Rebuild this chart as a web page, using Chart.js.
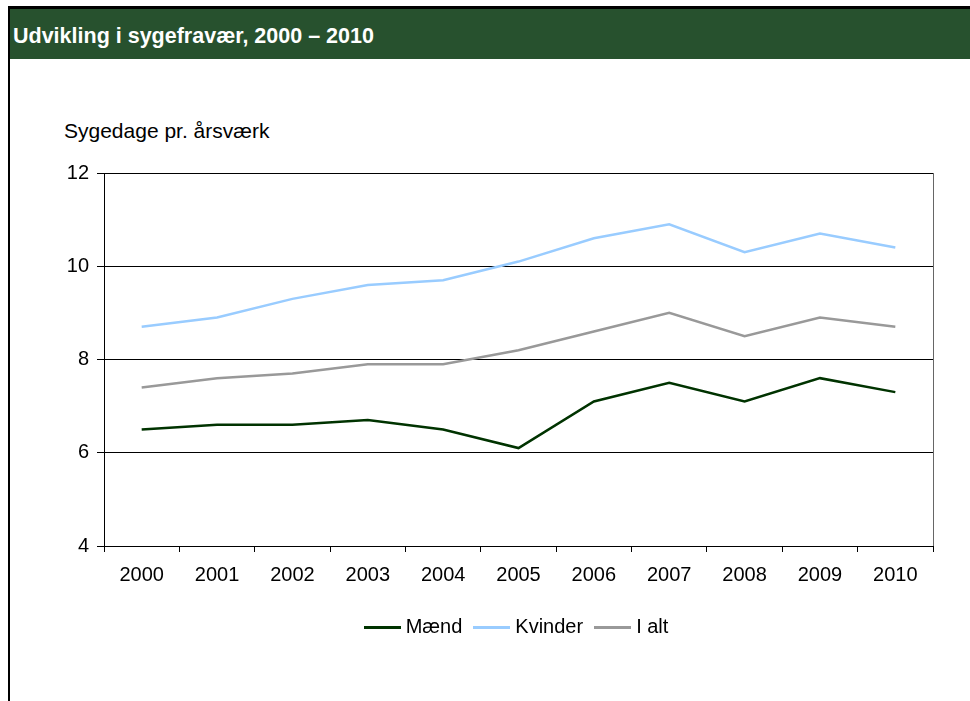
<!DOCTYPE html>
<html>
<head>
<meta charset="utf-8">
<script src="https://cdn.jsdelivr.net/npm/chart.js@4"></script>
<style>
  html, body { margin: 0; padding: 0; background: #fff; }
  body { width: 970px; height: 701px; position: relative; overflow: hidden; font-family: Arial, 'Liberation Sans', sans-serif; }
  .frame-top { position: absolute; left: 8px; top: 6px; width: 962px; height: 3px; background: #000; }
  .frame-left { position: absolute; left: 8px; top: 6px; width: 2px; height: 695px; background: #000; }
  .header { position: absolute; left: 10px; top: 9px; width: 960px; height: 50px; background: #27512e; }
  .header h1 { margin: 0; position: absolute; left: 3px; top: 15px; color: #fff; font-size: 21.5px; font-weight: bold; line-height: 24px; }
  .ytitle { position: absolute; left: 64px; top: 119px; font-size: 21px; line-height: 24px; color: #000; }
  #chart { position: absolute; left: 0; top: 0; }
</style>
</head>
<body>
<div class="frame-top"></div>
<div class="frame-left"></div>
<div class="header"><h1>Udvikling i sygefravær, 2000 – 2010</h1></div>
<div class="ytitle">Sygedage pr. årsværk</div>
<canvas id="chart" width="970" height="701"></canvas>

<script>
const years = ['2000', '2001', '2002', '2003', '2004', '2005', '2006', '2007', '2008', '2009', '2010'];
const maend = [6.5, 6.6, 6.6, 6.7, 6.5, 6.1, 7.1, 7.5, 7.1, 7.6, 7.3];
const kvinder = [8.7, 8.9, 9.3, 9.6, 9.7, 10.1, 10.6, 10.9, 10.3, 10.7, 10.4];
const iAlt = [7.4, 7.6, 7.7, 7.9, 7.9, 8.2, 8.6, 9.0, 8.5, 8.9, 8.7];
const yTicks = [4, 6, 8, 10, 12];

const fontFamily = "Arial, 'Liberation Sans', sans-serif";

function line(label, data, color) {
    return {
        label: label,
        data: data,
        borderColor: color,
        backgroundColor: color,
        borderWidth: 2.5,
        pointRadius: 0,
        tension: 0
    };
}

// legend sample: a short thick stroke, a bit wider than the legend box
function legendStroke(color) {
    const c = document.createElement('canvas');
    c.width = 37;
    c.height = 3;
    const g = c.getContext('2d');
    g.fillStyle = color;
    g.fillRect(0, 0, 37, 3);
    return c;
}

const ctx = document.getElementById('chart').getContext('2d');

new Chart(ctx, {
    type: 'line',
    data: {
        labels: years,
        datasets: [
            line('Mænd', maend, '#003300'),
            line('Kvinder', kvinder, '#99ccff'),
            line('I alt', iAlt, '#999999')
        ]
    },
    options: {
        responsive: false,
        animation: false,
        layout: {
            padding: { left: 44, right: 37, top: 173, bottom: 54 }
        },
        scales: {
            x: {
                offset: true,
                afterFit: scale => { scale.height = 55; },
                grid: {
                    offset: true,
                    drawOnChartArea: true,
                    // only the closing line on the right of the plot
                    color: c => c.type === 'tick' ? 'rgba(0,0,0,0)' : '#666',
                    tickColor: '#000',
                    tickLength: 6,
                    lineWidth: 1
                },
                border: { color: '#000', width: 1 },
                ticks: {
                    color: '#000',
                    padding: 11,
                    maxRotation: 0,
                    font: { family: fontFamily, size: 20 }
                }
            },
            y: {
                min: 4,
                max: 12,
                afterFit: scale => { scale.width = 60; },
                afterBuildTicks: scale => { scale.ticks = yTicks.map(v => ({ value: v })); },
                grid: {
                    color: '#000',
                    tickColor: '#000',
                    tickLength: 7,
                    lineWidth: 1
                },
                border: { color: '#000', width: 1 },
                ticks: {
                    color: '#000',
                    padding: 8,
                    font: { family: fontFamily, size: 20 }
                }
            }
        },
        plugins: {
            tooltip: { enabled: false },
            legend: {
                position: 'bottom',
                fullSize: false,
                labels: {
                    color: '#000',
                    usePointStyle: true,
                    pointStyleWidth: 27,
                    padding: 16,
                    font: { family: fontFamily, size: 20 },
                    generateLabels: chart => {
                        const items = Chart.defaults.plugins.legend.labels.generateLabels(chart);
                        items.forEach(it => {
                            it.pointStyle = legendStroke(it.strokeStyle);
                        });
                        return items;
                    }
                }
            }
        }
    }
});
</script>
</body>
</html>
